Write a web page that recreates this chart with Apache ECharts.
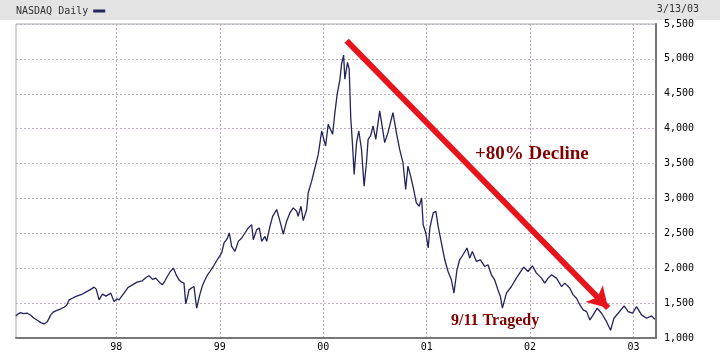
<!DOCTYPE html>
<html>
<head>
<meta charset="utf-8">
<script src="https://cdn.jsdelivr.net/npm/echarts@6/dist/echarts.min.js"></script>
<style>
html, body { margin: 0; padding: 0; background: #fff; }
#chart { width: 720px; height: 352px; }
</style>
</head>
<body>
<div id="chart"></div>
<script>
// dates as decimal years, closing values
var dateYears = [
    1997.028, 1997.050, 1997.076, 1997.100, 1997.140, 1997.170, 1997.205, 1997.240, 1997.270, 1997.301,
    1997.333, 1997.366, 1997.390, 1997.414, 1997.450, 1997.495, 1997.520, 1997.543, 1997.575, 1997.600,
    1997.623, 1997.660, 1997.704, 1997.745, 1997.785, 1997.805, 1997.833, 1997.865, 1997.900, 1997.946,
    1997.978, 1998.005, 1998.026, 1998.074, 1998.110, 1998.155, 1998.200, 1998.251, 1998.290, 1998.316,
    1998.350, 1998.381, 1998.415, 1998.444, 1998.470, 1998.493, 1998.520, 1998.551, 1998.580, 1998.606,
    1998.630, 1998.654, 1998.671, 1998.690, 1998.702, 1998.730, 1998.751, 1998.765, 1998.777, 1998.799,
    1998.809, 1998.830, 1998.857, 1998.880, 1998.905, 1998.937, 1998.954, 1998.986, 1999.018, 1999.041,
    1999.070, 1999.092, 1999.115, 1999.147, 1999.179, 1999.212, 1999.243, 1999.275, 1999.308, 1999.324,
    1999.357, 1999.382, 1999.405, 1999.437, 1999.453, 1999.485, 1999.511, 1999.550, 1999.582, 1999.614,
    1999.646, 1999.678, 1999.710, 1999.743, 1999.758, 1999.785, 1999.807, 1999.840, 1999.855, 1999.888,
    1999.920, 1999.952, 1999.985, 2000.023, 2000.048, 2000.091, 2000.113, 2000.135, 2000.161, 2000.177,
    2000.197, 2000.209, 2000.235, 2000.251, 2000.266, 2000.283, 2000.299, 2000.322, 2000.344, 2000.370,
    2000.395, 2000.418, 2000.434, 2000.457, 2000.482, 2000.508, 2000.546, 2000.572, 2000.594, 2000.626,
    2000.674, 2000.707, 2000.739, 2000.771, 2000.797, 2000.819, 2000.845, 2000.874, 2000.900, 2000.928,
    2000.951, 2000.966, 2000.992, 2001.015, 2001.031, 2001.063, 2001.089, 2001.111, 2001.143, 2001.175,
    2001.207, 2001.239, 2001.264, 2001.293, 2001.319, 2001.351, 2001.390, 2001.416, 2001.442, 2001.481,
    2001.519, 2001.561, 2001.593, 2001.626, 2001.657, 2001.689, 2001.713, 2001.732, 2001.771, 2001.819,
    2001.867, 2001.899, 2001.938, 2001.980, 2002.022, 2002.061, 2002.110, 2002.142, 2002.174, 2002.207,
    2002.255, 2002.303, 2002.336, 2002.384, 2002.416, 2002.449, 2002.481, 2002.513, 2002.546, 2002.578,
    2002.610, 2002.649, 2002.691, 2002.739, 2002.778, 2002.810, 2002.851, 2002.909, 2002.948, 2002.990,
    2003.029, 2003.077, 2003.126, 2003.174, 2003.206
];
var closes = [
    1316, 1345, 1364, 1350, 1355, 1330, 1283, 1250, 1220, 1201,
    1234, 1331, 1370, 1388, 1410, 1441, 1470, 1546, 1570, 1590,
    1604, 1620, 1657, 1690, 1729, 1700, 1546, 1628, 1600, 1643,
    1522, 1560, 1546, 1643, 1720, 1762, 1800, 1820, 1870, 1892,
    1840, 1858, 1800, 1762, 1820, 1882, 1950, 2002, 1900, 1834,
    1800, 1786, 1489, 1600, 1690, 1720, 1738, 1560, 1427, 1570,
    1633, 1740, 1834, 1900, 1953, 2025, 2002, 2146, 2218, 2362,
    2420, 2505, 2313, 2241, 2385, 2433, 2505, 2577, 2625, 2409,
    2553, 2577, 2385, 2457, 2385, 2600, 2744, 2841, 2672, 2491,
    2672, 2793, 2865, 2816, 2744, 2888, 2682, 2841, 3081, 3248,
    3440, 3631, 3967, 3751, 4063, 3919, 4231, 4494, 4700, 4925,
    5055, 4710, 4950, 4853, 4159, 3775, 3344, 3800, 3967, 3703,
    3175, 3512, 3847, 3895, 4038, 3847, 4254, 4015, 3800, 3943,
    4231, 3943, 3703, 3512, 3129, 3464, 3320, 3129, 2937, 2888,
    3009, 2625, 2505, 2290, 2577, 2793, 2816, 2600, 2361, 2121,
    1953, 1834, 1643, 1978, 2121, 2193, 2290, 2146, 2241, 2097,
    2121, 2025, 2050, 1906, 1834, 1690, 1594, 1427, 1643, 1738,
    1858, 1930, 2017, 1953, 2035, 1930, 1858, 1786, 1858, 1906,
    1858, 1738, 1786, 1714, 1618, 1570, 1474, 1403, 1378, 1259,
    1331, 1427, 1355, 1234, 1110, 1283, 1355, 1460, 1378, 1355,
    1450, 1331, 1283, 1316, 1269
];
var yearTicks = [1998, 1999, 2000, 2001, 2002, 2003];
var yearLabels = ['98', '99', '00', '01', '02', '03'];
var arrowFrom = [2000.226, 5260];
var arrowTo = [2002.754, 1430];

var chart = echarts.init(document.getElementById('chart'));
var points = dateYears.map(function (d, i) { return [d, closes[i]]; });
var mono = '"DejaVu Sans Mono", monospace';
var gridLine = { show: true, lineStyle: { color: '#bfb0bf', type: [2, 2], width: 1 } };

chart.setOption({
    animation: false,
    backgroundColor: '#fff',
    grid: { left: 16, right: 64, top: 24, bottom: 13, show: true, borderColor: '#a8a8a8', borderWidth: 1 },
    legend: {
        left: 11, top: 1, align: 'right', icon: 'rect', itemWidth: 12, itemHeight: 3, itemGap: 4,
        textStyle: { fontFamily: mono, fontSize: 10, color: '#333' },
        data: ['NASDAQ Daily']
    },
    graphic: [
        { type: 'rect', left: 0, top: 0, z: -10, shape: { width: 720, height: 20 }, style: { fill: '#e4e4e4' } },
        { type: 'text', right: 21, top: 4, style: { text: '3/13/03', font: '10px "DejaVu Sans Mono"', fill: '#333' } },
        { type: 'text', left: 475, top: 145, style: { text: '+80% Decline', font: 'bold 19px "Liberation Serif"', fill: '#800000' } },
        { type: 'text', left: 451, top: 313, style: { text: '9/11 Tragedy', font: 'bold 16px "Liberation Serif"', fill: '#800000' } }
    ],
    xAxis: {
        type: 'value', min: 1997.03, max: 2003.217,
        axisLine: { show: true, onZero: false, lineStyle: { color: '#777', width: 2 } },
        axisTick: { show: false, customValues: yearTicks },
        axisLabel: {
            customValues: yearTicks, margin: 4, fontFamily: mono, fontSize: 10, color: '#000',
            formatter: function (v) { return yearLabels[yearTicks.indexOf(Math.round(v))]; }
        },
        splitLine: gridLine
    },
    yAxis: {
        type: 'value', position: 'right', min: 1000, max: 5500, interval: 500,
        axisLine: { show: true, lineStyle: { color: '#777', width: 2 } },
        axisTick: { show: false },
        axisLabel: {
            margin: 8, fontFamily: mono, fontSize: 10, color: '#000',
            formatter: function (v) { return v.toLocaleString('en-US'); }
        },
        splitLine: gridLine
    },
    series: [{
        name: 'NASDAQ Daily', type: 'line', data: points, showSymbol: false,
        lineStyle: { color: '#23235e', width: 1.3 }, itemStyle: { color: '#23235e' },
        markLine: {
            silent: true, symbol: ['none', 'arrow'], symbolSize: [18, 20],
            label: { show: false },
            lineStyle: { color: '#e8141c', width: 6, type: 'solid' },
            data: [[{ coord: arrowFrom }, { coord: arrowTo }]]
        }
    }]
});
</script>
</body>
</html>
